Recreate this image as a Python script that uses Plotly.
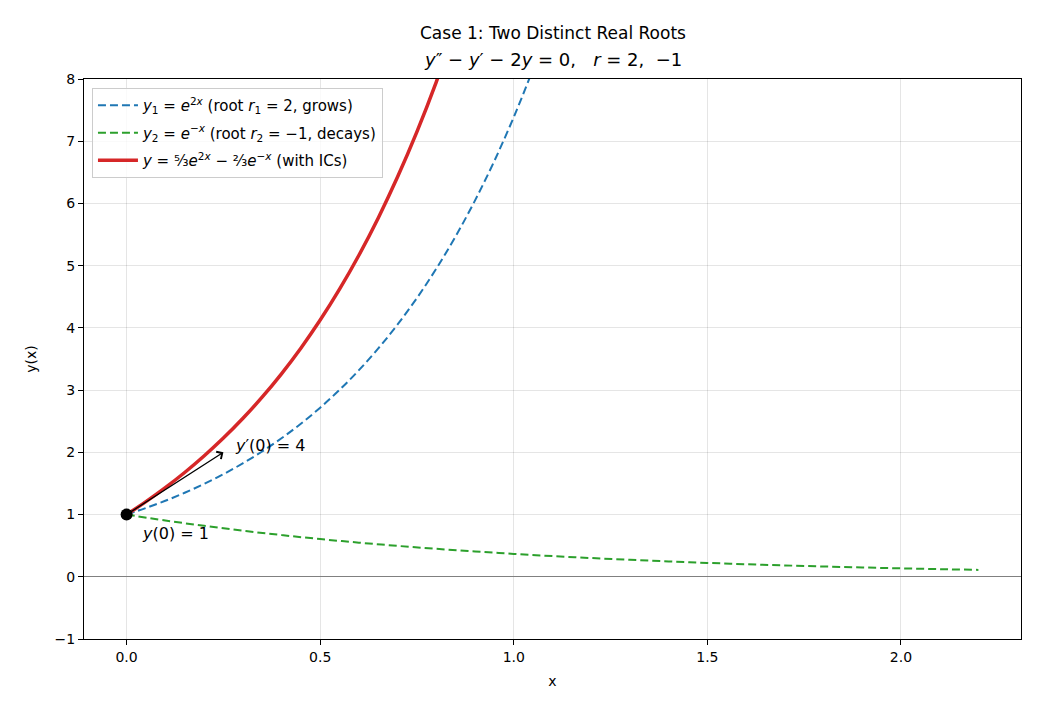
import plotly.graph_objects as go

# ---- data (sampled curve values) ----
x_fast = [0.00, 0.05, 0.10, 0.15, 0.20, 0.25, 0.30, 0.35, 0.40, 0.45, 0.50, 0.55,
          0.60, 0.65, 0.70, 0.75, 0.80, 0.85, 0.90, 0.95, 1.00, 1.05, 1.10]
y1_vals = [1.00000, 1.10517, 1.22140, 1.34986, 1.49182, 1.64872, 1.82212, 2.01375,
           2.22554, 2.45960, 2.71828, 3.00417, 3.32012, 3.66930, 4.05520, 4.48169,
           4.95303, 5.47395, 6.04965, 6.68589, 7.38906, 8.16617, 9.02501]

x_slow = [0.0, 0.1, 0.2, 0.3, 0.4, 0.5, 0.6, 0.7, 0.8, 0.9, 1.0, 1.1,
          1.2, 1.3, 1.4, 1.5, 1.6, 1.7, 1.8, 1.9, 2.0, 2.1, 2.2]
y2_vals = [1.000000, 0.904837, 0.818731, 0.740818, 0.670320, 0.606531, 0.548812,
           0.496585, 0.449329, 0.406570, 0.367879, 0.332871, 0.301194, 0.272532,
           0.246597, 0.223130, 0.201897, 0.182684, 0.165299, 0.149569, 0.135335,
           0.122456, 0.110803]

x_sol = [0.00, 0.05, 0.10, 0.15, 0.20, 0.25, 0.30, 0.35, 0.40,
         0.45, 0.50, 0.55, 0.60, 0.65, 0.70, 0.75, 0.80, 0.85]
y_sol = [1.00000, 1.20780, 1.43244, 1.67596, 1.94055, 2.22867, 2.54299, 2.88646,
         3.26235, 3.67425, 4.12612, 4.62232, 5.16766, 5.76747, 6.42761, 7.15457,
         7.95550, 8.83831]

ic_point = (0.0, 1.0)
slope_tip = (0.25, 2.0)

x_ticks = [0.0, 0.5, 1.0, 1.5, 2.0]
x_tick_labels = ["0.0", "0.5", "1.0", "1.5", "2.0"]
y_ticks = [-1, 0, 1, 2, 3, 4, 5, 6, 7, 8]
y_tick_labels = ["\u22121", "0", "1", "2", "3", "4", "5", "6", "7", "8"]

FONT = "DejaVu Sans"

fig = go.Figure()
fig.add_trace(go.Scatter(
    x=x_fast, y=y1_vals, mode="lines", line_shape="spline", legendgroup="a",
    line=dict(color="#1f77b4", width=2, dash="8px,4px"),
    name="<i>y</i><sub>1</sub> = <i>e</i><sup>2<i>x</i></sup> (root <i>r</i><sub>1</sub> = 2, grows)"))
fig.add_trace(go.Scatter(
    x=x_slow, y=y2_vals, mode="lines", line_shape="spline", legendgroup="b",
    line=dict(color="#2ca02c", width=2, dash="8px,4px"),
    name="<i>y</i><sub>2</sub> = <i>e</i><sup>\u2212<i>x</i></sup> (root <i>r</i><sub>2</sub> = \u22121, decays)"))
fig.add_trace(go.Scatter(
    x=x_sol, y=y_sol, mode="lines", line_shape="spline", legendgroup="c",
    line=dict(color="#d62728", width=3.5),
    name="<i>y</i> = \u2075\u2044\u2083<i>e</i><sup>2<i>x</i></sup> \u2212 \u00b2\u2044\u2083<i>e</i><sup>\u2212<i>x</i></sup> (with ICs)"))
fig.add_trace(go.Scatter(
    x=[ic_point[0]], y=[ic_point[1]], mode="markers",
    marker=dict(color="black", size=12), showlegend=False, cliponaxis=False))

fig.add_annotation(x=slope_tip[0], y=slope_tip[1], ax=ic_point[0], ay=ic_point[1],
                   xref="x", yref="y", axref="x", ayref="y", text="",
                   showarrow=True, arrowhead=4, arrowsize=1.3, arrowwidth=1.3,
                   arrowcolor="black", standoff=0, startstandoff=0)
fig.add_annotation(x=0.275, y=1.93, xref="x", yref="y", xanchor="left", yanchor="bottom",
                   text="<i>y</i>\u2032(0) = 4", showarrow=False,
                   font=dict(family=FONT, size=16, color="black"))
fig.add_annotation(x=0.035, y=0.69, xref="x", yref="y", xanchor="left", yanchor="middle",
                   text="<i>y</i>(0) = 1", showarrow=False,
                   font=dict(family=FONT, size=16, color="black"))

# title lines
fig.add_annotation(x=0.5, y=1.082, xref="paper", yref="paper", xanchor="center",
                   yanchor="middle", text="Case 1: Two Distinct Real Roots", showarrow=False,
                   font=dict(family=FONT, size=17, color="black"))
fig.add_annotation(x=0.5, y=1.034, xref="paper", yref="paper", xanchor="center",
                   yanchor="middle",
                   text="<i>y</i>\u2033 \u2212 <i>y</i>\u2032 \u2212 2<i>y</i> = 0,   <i>r</i> = 2,  \u22121",
                   showarrow=False, font=dict(family=FONT, size=18, color="black"))

axis_common = dict(
    showgrid=True, gridcolor="rgba(0,0,0,0.1)", gridwidth=1,
    showline=True, linecolor="black", linewidth=1, mirror=True,
    ticks="outside", ticklen=5, tickwidth=1, tickcolor="black",
    tickfont=dict(family=FONT, size=14, color="black"),
)

fig.update_layout(
    width=1040, height=715,
    margin=dict(l=84, r=19, t=79, b=76),
    paper_bgcolor="white", plot_bgcolor="white",
    font=dict(family=FONT, size=14, color="black"),
    showlegend=True,
    legend=dict(x=0.0085, y=0.984, xanchor="left", yanchor="top",
                bgcolor="rgba(255,255,255,0.8)", bordercolor="#cccccc", borderwidth=1,
                itemwidth=40, tracegroupgap=5,
                font=dict(family=FONT, size=15, color="black")),
    xaxis=dict(range=[-0.11, 2.31], tickvals=x_ticks, ticktext=x_tick_labels,
               zeroline=False,
               title=dict(text="x", font=dict(family=FONT, size=14), standoff=12),
               **axis_common),
    yaxis=dict(range=[-1, 8], tickvals=y_ticks, ticktext=y_tick_labels,
               zeroline=True, zerolinecolor="gray", zerolinewidth=1,
               title=dict(text="y(x)", font=dict(family=FONT, size=14), standoff=14),
               **axis_common),
)

fig.write_html("out.html")
